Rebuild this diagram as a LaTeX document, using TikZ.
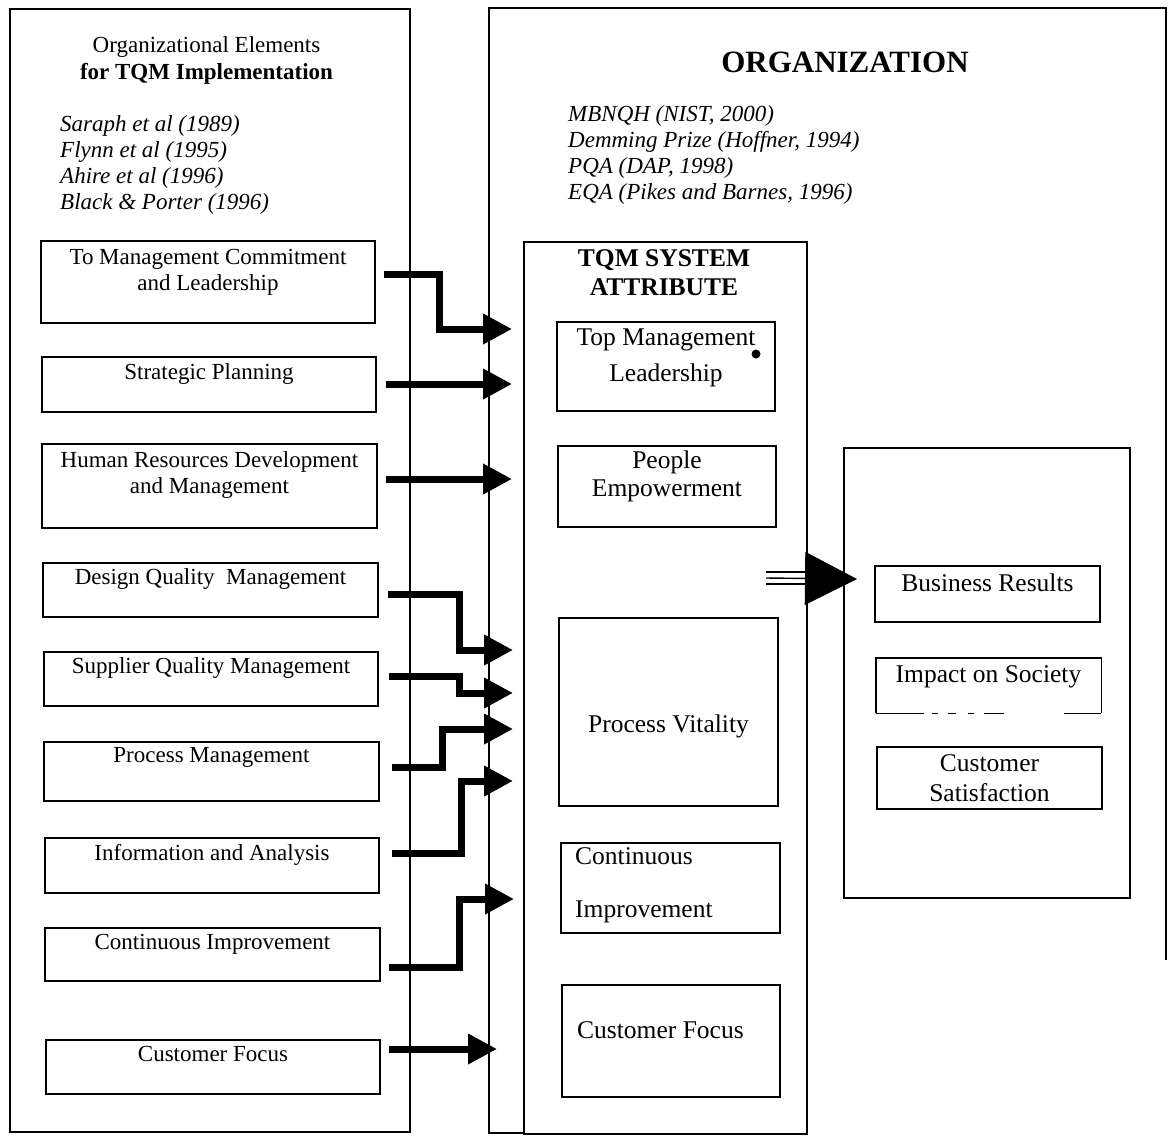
\documentclass[tikz,border=0pt]{standalone}
\usepackage{fontspec}
\setmainfont{Liberation Serif}
\usetikzlibrary{arrows.meta,calc}
\newcommand{\lfont}{\fontsize{23}{26}\selectfont}
\newcommand{\mfont}{\fontsize{25.5}{28}\selectfont}
\begin{document}
\begin{tikzpicture}[x=1pt,y=-1pt,
  frame/.style={draw, line width=1.4pt, inner sep=0pt},
  ltxt/.style={inner sep=0pt, anchor=base, align=center, font=\lfont},
  mtxt/.style={inner sep=0pt, anchor=base, align=center, font=\mfont},
  arr/.style={line width=7pt, line join=miter, -{Triangle[length=29pt,width=29pt]}},
  thin/.style={line width=1.4pt}]
\useasboundingbox (0,0) rectangle (1170,1138);
\fill[white] (0,0) rectangle (1170,1138);

% ---------- outer panels ----------
\node[frame, minimum width=400pt, minimum height=1123pt] (LO) at (210,570.5) {};
\draw[thin] (1166,960) -- (1166,8) -- (489,8) -- (489,1133) -- (524,1133);
\node[frame, minimum width=283pt, minimum height=892pt] (TQM) at (665.5,688) {};

% ---------- left header (base = baseline of last line) ----------
\node[ltxt, font=\fontsize{23}{27}\selectfont] (lhead) at (206.5,79)
  {Organizational Elements\\\textbf{for TQM Implementation}};
\node[ltxt, anchor=base west, align=left, font=\lfont\itshape] (lrefs) at (60,209)
  {Saraph et al (1989)\\Flynn et al (1995)\\Ahire et al (1996)\\Black \& Porter (1996)};

% ---------- right header ----------
\node[inner sep=0pt, anchor=base, font=\fontsize{31}{34}\selectfont\bfseries] (orgt) at (845,72) {ORGANIZATION};
\node[ltxt, anchor=base west, align=left, font=\lfont\itshape] (rrefs) at (568,199)
  {MBNQH (NIST, 2000)\\Demming Prize (Hoffner, 1994)\\PQA (DAP, 1998)\\EQA (Pikes and Barnes, 1996)};
\node[mtxt, font=\fontsize{25.5}{29}\selectfont\bfseries] (tqmt) at (664,295)
  {TQM SYSTEM\\ATTRIBUTE};

% ---------- left element boxes ----------
\node[frame, minimum width=334pt, minimum height=82pt] (L1) at (208,282) {};
\node[frame, minimum width=334pt, minimum height=55pt] (L2) at (209,384.5) {};
\node[frame, minimum width=335pt, minimum height=84pt] (L3) at (209.5,486) {};
\node[frame, minimum width=335pt, minimum height=54pt] (L4) at (210.5,590) {};
\node[frame, minimum width=334pt, minimum height=54pt] (L5) at (211,679) {};
\node[frame, minimum width=335pt, minimum height=59pt] (L6) at (211.5,771.5) {};
\node[frame, minimum width=334pt, minimum height=55pt] (L7) at (212,865.5) {};
\node[frame, minimum width=335pt, minimum height=53pt] (L8) at (212.5,954.5) {};
\node[frame, minimum width=334pt, minimum height=54pt] (L9) at (213,1067) {};

\node[ltxt] (L1t) at (208,290) {To Management Commitment\\and Leadership};
\node[ltxt] (L2t) at (209,379) {Strategic Planning};
\node[ltxt] (L3t) at (209.5,493) {Human Resources Development\\and Management};
\node[ltxt] (L4t) at (210.5,584) {Design Quality\ \ Management};
\node[ltxt] (L5t) at (211,673) {Supplier Quality Management};
\node[ltxt] (L6t) at (211.5,762) {Process Management};
\node[ltxt] (L7t) at (212,860) {Information and Analysis};
\node[ltxt] (L8t) at (212.5,949) {Continuous Improvement};
\node[ltxt] (L9t) at (213,1061) {Customer Focus};

% ---------- TQM attribute boxes ----------
\node[frame, minimum width=218pt, minimum height=89pt] (M1) at (666,366.5) {};
\node[frame, minimum width=218pt, minimum height=81pt] (M2) at (667,486.5) {};
\node[frame, minimum width=219pt, minimum height=188pt] (M3) at (668.5,712) {};
\node[frame, minimum width=219pt, minimum height=90pt] (M4) at (670.5,888) {};
\node[frame, minimum width=218pt, minimum height=112pt] (M5) at (671,1041) {};

\node[mtxt, font=\fontsize{25.5}{36}\selectfont] (M1t) at (666,381) {Top Management\\Leadership};
\fill (756,354) circle (4.5pt);
\node[mtxt] (M2t) at (667,496) {People\\Empowerment};
\node[mtxt] (M3t) at (668.5,732) {Process Vitality};
\node[mtxt, anchor=base west, align=left, font=\fontsize{25.5}{53}\selectfont] (M4t) at (575,917) {Continuous\\Improvement};
\node[mtxt, anchor=base west] (M5t) at (577,1038) {Customer Focus};

% ---------- results panel ----------
\node[frame, minimum width=286pt, minimum height=450pt] (RB) at (987,673) {};
\node[frame, minimum width=225pt, minimum height=56pt] (R1) at (987.5,594) {};
\node[inner sep=0pt, minimum width=225pt, minimum height=55pt] (R2) at (988.5,685.5) {};
\draw[thin] (R2.south west) -- (R2.north west) -- (R2.north east) -- (R2.south east);
\draw[thin, dash pattern=on 48pt off 8pt on 6pt off 10pt on 8pt off 12pt on 6pt off 10pt on 20pt off 60pt] (R2.south west) -- (R2.south east);
\node[frame, minimum width=225pt, minimum height=62pt] (R3) at (989.5,778) {};

\node[mtxt] (R1t) at (987.5,591) {Business Results};
\node[mtxt] (R2t) at (988.5,682) {Impact on Society};
\node[mtxt, font=\fontsize{25.5}{30}\selectfont] (R3t) at (989.5,801) {Customer\\Satisfaction};

% ---------- connectors: elements -> TQM attributes ----------
\coordinate (t1) at (512,329);
\coordinate (t2) at (512,384);
\coordinate (t3) at (512,479);
\coordinate (t4) at (513,650);
\coordinate (t5) at (513,693);
\coordinate (t6) at (513,729);
\coordinate (t7) at (513,781);
\coordinate (t8) at (514,899);
\coordinate (t9) at (497,1049);

\draw[arr] ($(L1.east)+(8,-8)$) -- ++(56,0) |- (t1);
\draw[arr] ($(L2.east)+(9,-0.5)$) -- (t2);
\draw[arr] ($(L3.east)+(8,-7)$) -- (t3);
\draw[arr] ($(L4.east)+(9,4)$) -- ++(72,0) |- (t4);
\draw[arr] ($(L5.east)+(10,-3)$) -- ++(71,0) |- (t5);
\draw[arr] ($(L6.east)+(12,-4.5)$) -- ++(51,0) |- (t6);
\draw[arr] ($(L7.east)+(12,-12.5)$) -- ++(70,0) |- (t7);
\draw[arr] ($(L8.east)+(8,12.5)$) -- ++(71,0) |- (t8);
\draw[arr] ($(L9.east)+(8,-18)$) -- (t9);

% ---------- TQM system -> results ----------
\coordinate (tqmout) at (766,578);
\coordinate (resin) at (857,579);
\draw[thin, -{Triangle[length=52pt,width=53pt]}] (tqmout) -- (resin);
\draw[thin] ($(tqmout)+(0,-6)$) -- ++(40,0);
\draw[thin] ($(tqmout)+(0,6)$) -- ++(40,0);
\end{tikzpicture}
\end{document}
